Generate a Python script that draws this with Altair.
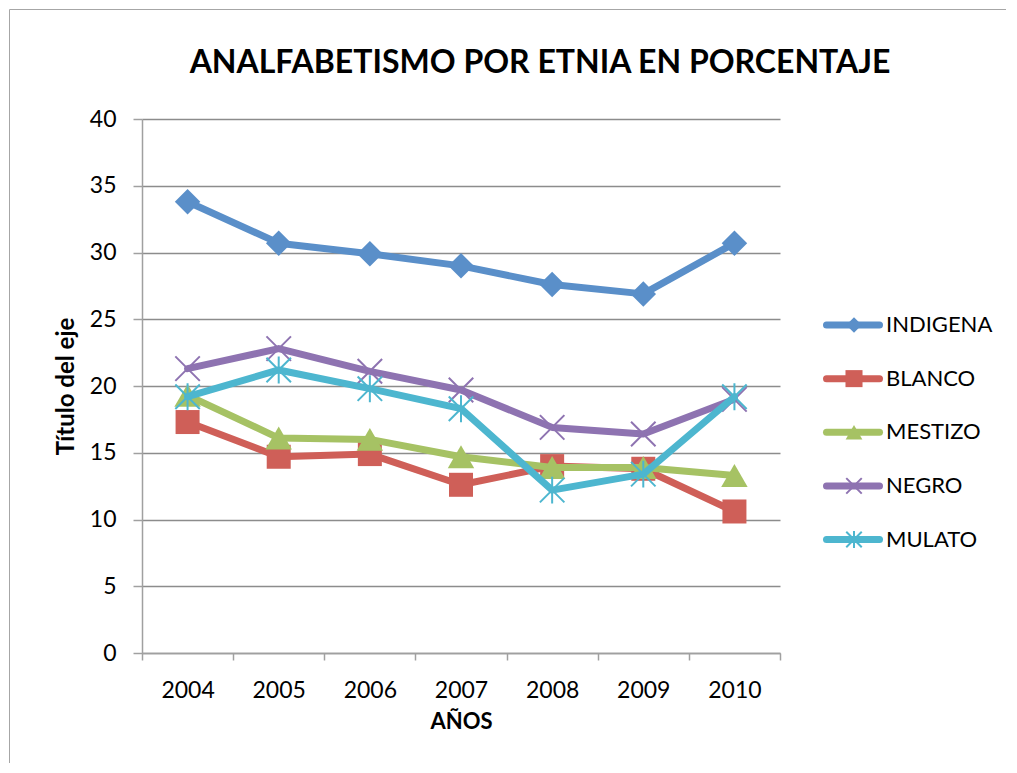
import altair as alt
import pandas as pd

# ---------------- data ----------------
years = ["2004", "2005", "2006", "2007", "2008", "2009", "2010"]
series = ["INDIGENA", "BLANCO", "MESTIZO", "NEGRO", "MULATO"]
indigena = [33.8, 30.7, 29.9, 29.0, 27.6, 26.9, 30.7]
blanco = [17.3, 14.7, 14.9, 12.6, 14.0, 13.8, 10.6]
mestizo = [19.3, 16.1, 16.0, 14.7, 13.9, 13.9, 13.3]
negro = [21.3, 22.8, 21.1, 19.7, 16.9, 16.4, 19.0]
mulato = [19.2, 21.2, 19.8, 18.3, 12.2, 13.4, 19.2]
y_ticks = [0, 5, 10, 15, 20, 25, 30, 35, 40]

title_text = "ANALFABETISMO POR ETNIA EN PORCENTAJE"
x_title = "AÑOS"
y_title = "Título del eje"

# ---------------- styles ----------------
colors = ["#5A8FC9", "#CF5F58", "#A6C264", "#8E73B1", "#4DB6CF"]
X_PATH = "M-1,-1L1,1M-1,1L1,-1"
STAR_PATH = "M-1,-1L1,1M-1,1L1,-1M0,-1.1L0,1.1"
shapes = ["diamond", "square", "triangle-up", X_PATH, STAR_PATH]
filled = [True, True, True, False, False]
sizes_main = [650, 576, 700, 600, 600]
sizes_leg = [240, 290, 280, 240, 240]
FONT = "Lato"
AXIS_GRAY = "#a0a0a0"
GRID_GRAY = "#8c8c8c"

rows = []
for name, vals in zip(series, [indigena, blanco, mestizo, negro, mulato]):
    for yr, v in zip(years, vals):
        rows.append({"serie": name, "anio": yr, "valor": v})
df = pd.DataFrame(rows)

x_enc = alt.X(
    "anio:O",
    bandPosition=0.5,
    scale=alt.Scale(type="band", paddingInner=0, paddingOuter=0, domain=years),
    axis=alt.Axis(
        title=x_title, tickBand="extent", labelAngle=0, labelFontSize=23,
        labelFont=FONT, labelColor="black", labelPadding=19, tickSize=7,
        tickColor=AXIS_GRAY, tickWidth=1.5, domainColor=AXIS_GRAY, domainWidth=1.5,
        titleFont=FONT, titleFontSize=22, titleFontWeight="bold", titleColor="black",
        titleX=319, titleY=75, titleBaseline="alphabetic", titleAlign="center",
        grid=False,
    ),
)
y_enc = alt.Y(
    "valor:Q",
    scale=alt.Scale(domain=[0, 40], nice=False),
    axis=alt.Axis(
        values=y_ticks, title=y_title, labelFontSize=23, labelFont=FONT,
        labelColor="black", labelPadding=17, tickSize=9, tickColor=AXIS_GRAY,
        tickWidth=1.5, domainColor=AXIS_GRAY, domainWidth=1.5,
        grid=True, gridColor=GRID_GRAY, gridWidth=1.5,
        titleFont=FONT, titleFontSize=24, titleFontWeight="bold", titleColor="black",
        titleX=-75.5, titleY=267, titleAngle=-90, titleBaseline="middle",
        titleAlign="center",
    ),
)

layers = []
for i, name in enumerate(series):
    base = alt.Chart(df).transform_filter(alt.datum.serie == name)
    line = base.mark_line(
        color=colors[i], strokeWidth=7, strokeJoin="round", strokeCap="round"
    ).encode(x=x_enc, y=y_enc)
    pt = base.mark_point(
        shape=shapes[i], filled=filled[i], color=colors[i], size=sizes_main[i],
        opacity=1, strokeWidth=2,
    ).encode(x=x_enc, y=y_enc)
    layers += [line, pt]

main = alt.layer(*layers).properties(
    width=638,
    height=534,
    title=alt.TitleParams(
        title_text, font=FONT, fontSize=32, fontWeight="bold", color="black",
        anchor="middle", frame="group", dx=79, offset=3, baseline="alphabetic",
    ),
)

# ---------------- legend panel ----------------
leg_df = pd.DataFrame({"serie": series})
leg_y = alt.Y(
    "serie:N",
    scale=alt.Scale(type="point", domain=series, range=[206, 420.5], padding=0),
    axis=None,
)
leg_layers = []
for i, name in enumerate(series):
    b = alt.Chart(leg_df).transform_filter(alt.datum.serie == name)
    leg_layers.append(
        b.mark_rule(color=colors[i], strokeWidth=7, strokeCap="round").encode(
            x=alt.value(3.5), x2=alt.value(56.5), y=leg_y
        )
    )
    leg_layers.append(
        b.mark_point(
            shape=shapes[i], filled=filled[i], color=colors[i], size=sizes_leg[i],
            opacity=1, strokeWidth=2,
        ).encode(x=alt.value(31), y=leg_y)
    )
leg_layers.append(
    alt.Chart(leg_df).mark_text(
        align="left", baseline="middle", fontSize=22, font=FONT, color="black"
    ).encode(x=alt.value(63), y=leg_y, text="serie:N")
)
frame_df = pd.DataFrame({"k": [0]})
leg_layers.append(
    alt.Chart(frame_df).mark_rule(color="#a6a6a6", strokeWidth=1).encode(
        x=alt.value(-813.5), y=alt.value(-109.5), y2=alt.value(644)
    )
)
leg_layers.append(
    alt.Chart(frame_df).mark_rule(color="#a6a6a6", strokeWidth=1).encode(
        x=alt.value(-813.5), x2=alt.value(183), y=alt.value(-109.5)
    )
)
legend = alt.layer(*leg_layers).properties(width=130, height=534)

chart = (
    alt.hconcat(main, legend, spacing=43, bounds="flush")
    .properties(padding=1)
    .configure_view(stroke=None)
)

chart.save("out.html", embed_options={"renderer": "svg", "actions": False})
